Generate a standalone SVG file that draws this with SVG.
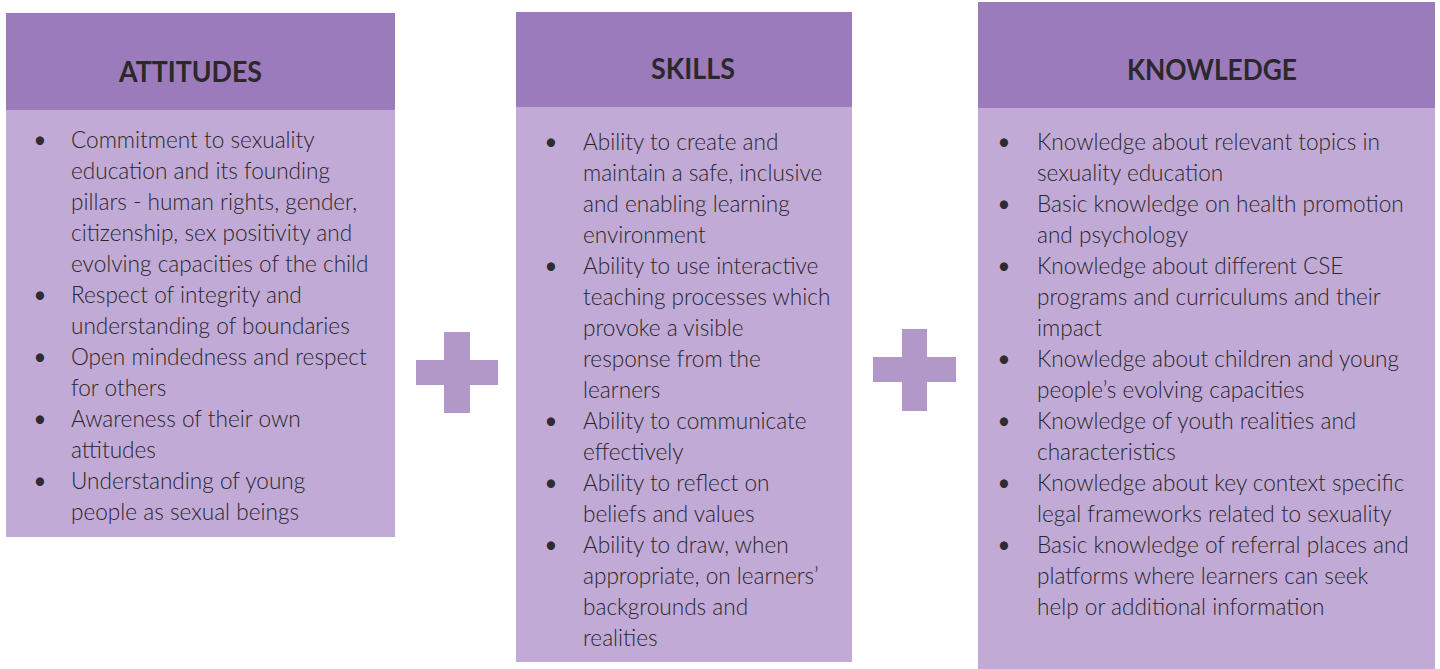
<svg xmlns="http://www.w3.org/2000/svg" width="1440" height="669" viewBox="0 0 1440 669">
<style>
.hd{fill:#9b7bbb}
.bd{fill:#c1abd6}
.plus{fill:#b198c9}
.ht{font-family:Lato,"Open Sans","Liberation Sans",sans-serif;font-weight:bold;font-size:29px;fill:#2b282c;text-anchor:middle}
.tx{font-family:Lato,"Open Sans","Liberation Sans",sans-serif;font-weight:300;font-size:22.6px;fill:#2a262b}
.bl{font-family:Lato,"Open Sans","Liberation Sans",sans-serif;font-size:22.2px;fill:#2f2b30;text-anchor:middle}
</style>
<rect width="1440" height="669" fill="#ffffff"/>
<g id="attitudes">
<rect class="bd" x="6" y="110" width="389" height="427"/>
<rect class="hd" x="6" y="13" width="389" height="97"/>
<text class="ht" x="190.5" y="82" textLength="143" lengthAdjust="spacingAndGlyphs">ATTITUDES</text>
<text class="bl"><tspan x="40" y="147.5">•</tspan><tspan x="40" y="302.5">•</tspan><tspan x="40" y="364.5">•</tspan><tspan x="40" y="426.5">•</tspan><tspan x="40" y="488.5">•</tspan></text>
<text class="tx">
<tspan x="71" y="147.5">Commitment to sexuality</tspan>
<tspan x="71" y="178.5">education and its founding</tspan>
<tspan x="71" y="209.5">pillars - human rights, gender,</tspan>
<tspan x="71" y="240.5">citizenship, sex positivity and</tspan>
<tspan x="71" y="271.5">evolving capacities of the child</tspan>
<tspan x="71" y="302.5">Respect of integrity and</tspan>
<tspan x="71" y="333.5">understanding of boundaries</tspan>
<tspan x="71" y="364.5">Open mindedness and respect</tspan>
<tspan x="71" y="395.5">for others</tspan>
<tspan x="71" y="426.5">Awareness of their own</tspan>
<tspan x="71" y="457.5">attitudes</tspan>
<tspan x="71" y="488.5">Understanding of young</tspan>
<tspan x="71" y="519.5">people as sexual beings</tspan>
</text>
</g>
<g id="skills">
<rect class="bd" x="516" y="107" width="336" height="555"/>
<rect class="hd" x="516" y="12" width="336" height="95"/>
<text class="ht" x="693" y="79" textLength="84" lengthAdjust="spacingAndGlyphs">SKILLS</text>
<text class="bl"><tspan x="551" y="149.5">•</tspan><tspan x="551" y="273.5">•</tspan><tspan x="551" y="428.5">•</tspan><tspan x="551" y="490.5">•</tspan><tspan x="551" y="552.5">•</tspan></text>
<text class="tx">
<tspan x="583" y="149.5">Ability to create and</tspan>
<tspan x="583" y="180.5">maintain a safe, inclusive</tspan>
<tspan x="583" y="211.5">and enabling learning</tspan>
<tspan x="583" y="242.5">environment</tspan>
<tspan x="583" y="273.5">Ability to use interactive</tspan>
<tspan x="583" y="304.5">teaching processes which</tspan>
<tspan x="583" y="335.5">provoke a visible</tspan>
<tspan x="583" y="366.5">response from the</tspan>
<tspan x="583" y="397.5">learners</tspan>
<tspan x="583" y="428.5">Ability to communicate</tspan>
<tspan x="583" y="459.5">effectively</tspan>
<tspan x="583" y="490.5">Ability to reflect on</tspan>
<tspan x="583" y="521.5">beliefs and values</tspan>
<tspan x="583" y="552.5">Ability to draw, when</tspan>
<tspan x="583" y="583.5">appropriate, on learners’</tspan>
<tspan x="583" y="614.5">backgrounds and</tspan>
<tspan x="583" y="645.5">realities</tspan>
</text>
</g>
<g id="knowledge">
<rect class="bd" x="978" y="108" width="457" height="561"/>
<rect class="hd" x="978" y="2" width="457" height="106"/>
<text class="ht" x="1212" y="80" textLength="170" lengthAdjust="spacingAndGlyphs">KNOWLEDGE</text>
<text class="bl"><tspan x="1004" y="150">•</tspan><tspan x="1004" y="212">•</tspan><tspan x="1004" y="274">•</tspan><tspan x="1004" y="367">•</tspan><tspan x="1004" y="429">•</tspan><tspan x="1004" y="491">•</tspan><tspan x="1004" y="553">•</tspan></text>
<text class="tx">
<tspan x="1037" y="150">Knowledge about relevant topics in</tspan>
<tspan x="1037" y="181">sexuality education</tspan>
<tspan x="1037" y="212">Basic knowledge on health promotion</tspan>
<tspan x="1037" y="243">and psychology</tspan>
<tspan x="1037" y="274">Knowledge about different CSE</tspan>
<tspan x="1037" y="305">programs and curriculums and their</tspan>
<tspan x="1037" y="336">impact</tspan>
<tspan x="1037" y="367">Knowledge about children and young</tspan>
<tspan x="1037" y="398">people’s evolving capacities</tspan>
<tspan x="1037" y="429">Knowledge of youth realities and</tspan>
<tspan x="1037" y="460">characteristics</tspan>
<tspan x="1037" y="491">Knowledge about key context specific</tspan>
<tspan x="1037" y="522">legal frameworks related to sexuality</tspan>
<tspan x="1037" y="553">Basic knowledge of referral places and</tspan>
<tspan x="1037" y="584">platforms where learners can seek</tspan>
<tspan x="1037" y="615">help or additional information</tspan>
</text>
</g>
<g id="plus-1">
<rect class="plus" x="416" y="360" width="82" height="25"/>
<rect class="plus" x="444" y="332" width="26" height="81"/>
</g>
<g id="plus-2">
<rect class="plus" x="873" y="357" width="83" height="25"/>
<rect class="plus" x="902" y="329" width="25" height="82"/>
</g>
<g id="connectors"></g>
</svg>
